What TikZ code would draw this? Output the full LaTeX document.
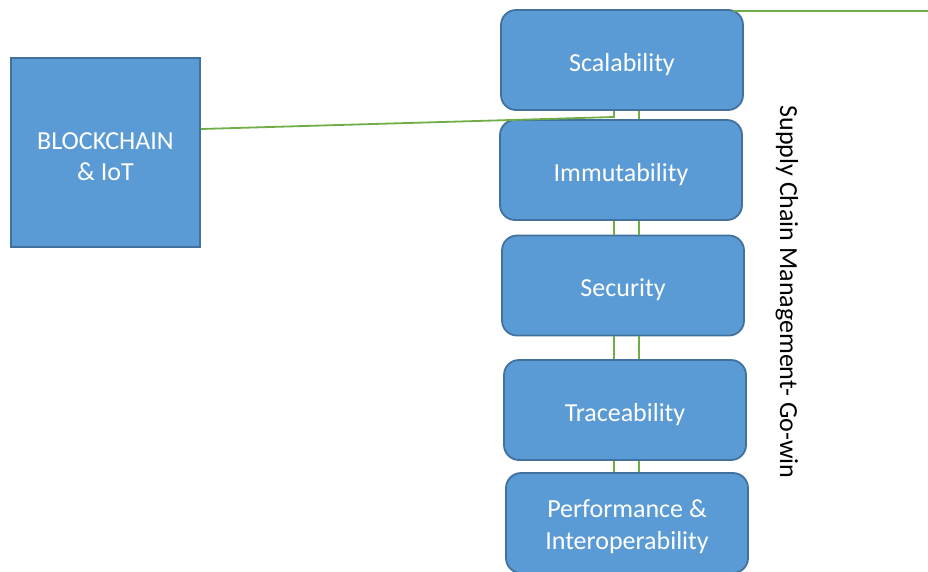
\documentclass[tikz,border=0pt]{standalone}
\usepackage{fontspec}
\setmainfont{Carlito}
\definecolor{boxfill}{HTML}{5B9BD5}
\definecolor{boxline}{HTML}{41719C}
\definecolor{linkgreen}{HTML}{70AD47}
\tikzset{
  rbox/.style={draw=boxline, fill=boxfill, line width=1.8pt, rounded corners=15pt,
    minimum width=242pt, minimum height=100pt, inner sep=0pt, text=white,
    font=\fontsize{26}{32}\selectfont, align=center, text height=23pt, text depth=1pt},
  twoline/.style={text height=58pt, text depth=6pt},
  sbox/.style={draw=boxline, fill=boxfill, line width=1.8pt,
    minimum width=189pt, minimum height=189pt, inner sep=0pt, text=white,
    font=\fontsize{26}{31}\selectfont, align=center, text height=55pt, text depth=0pt},
  link/.style={draw=linkgreen, line width=1.8pt}
}
\begin{document}
\begin{tikzpicture}[x=1pt,y=-1pt]
\useasboundingbox (0,0) rectangle (928,571);
\clip (0,0) rectangle (928,571);
\node[sbox] (bc) at (105.5,152.5) {BLOCKCHAIN\\\& IoT};
\node[rbox] (s1) at (622,60) {Scalability};
\node[rbox] (s2) at (621,170) {Immutability};
\node[rbox] (s3) at (623,285.5) {Security};
\node[rbox] (s4) at (625,410) {Traceability};
\node[rbox, twoline] (s5) at (627,523) {Performance \&\\Interoperability};
\node[rotate=-90, font=\fontsize{26}{31}\selectfont] (lbl) at (787,292) {Supply Chain Management- Go-win};
\coordinate (bcout) at ([yshift=23.5pt]bc.east);
\coordinate (j) at (614,117);
\coordinate (xa) at (614,0);
\coordinate (xb) at (639,0);
\coordinate (tr) at (733,11);
\coordinate (re) at (930,11);
\draw[link] (bcout) -- (j) -- (s1.south -| j);
\draw[link] (s1.south -| xb) -- (s2.north -| xb);
\draw[link] (s2.south -| xa) -- (s3.north -| xa);
\draw[link] (s2.south -| xb) -- (s3.north -| xb);
\draw[link] (s3.south -| xa) -- (s4.north -| xa);
\draw[link] (s3.south -| xb) -- (s4.north -| xb);
\draw[link] (s4.south -| xa) -- (s5.north -| xa);
\draw[link] (s4.south -| xb) -- (s5.north -| xb);
\draw[link] (tr) -- (re);
\end{tikzpicture}
\end{document}
